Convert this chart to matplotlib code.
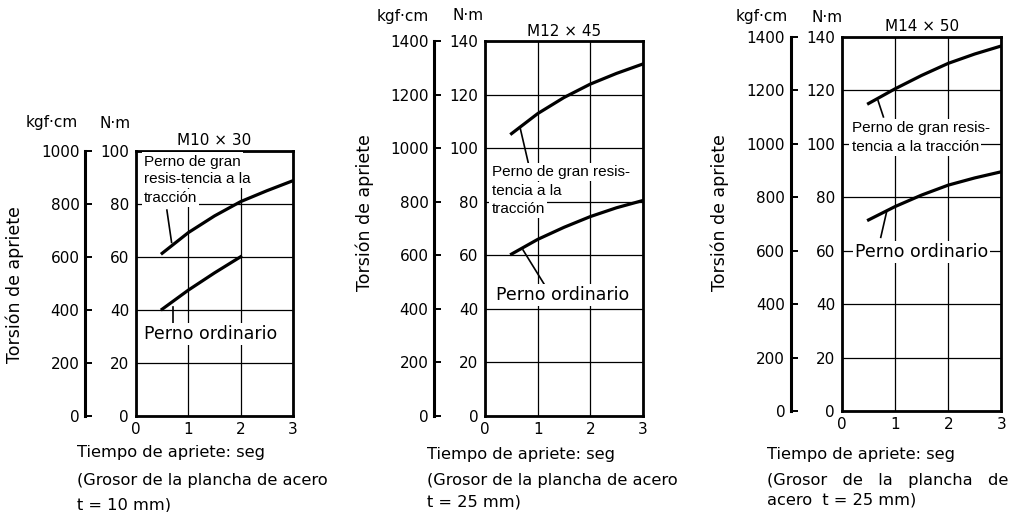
import numpy as np
import matplotlib
matplotlib.use("Agg")
import matplotlib.pyplot as plt

plt.rcParams['font.family'] = ['DejaVu Sans']
NARROW = ['Liberation Sans Narrow', 'Liberation Sans', 'DejaVu Sans']

W, H = 1027, 512

# --- data (x = seconds, y = N·m) ---
x_times = [0.5, 1.0, 1.5, 2.0, 2.5, 3.0]

m10_high_x = [0.5, 1.0, 1.5, 2.0, 2.5, 3.0]
m10_high_y = [61.4, 69.2, 75.5, 80.9, 85.0, 88.8]
m10_low_x = [0.5, 1.0, 1.5, 2.0]
m10_low_y = [40.3, 47.5, 54.0, 60.1]

m12_high_y = [105.5, 113.0, 119.0, 124.0, 128.0, 131.5]
m12_low_y = [60.5, 66.0, 70.5, 74.5, 77.8, 80.5]

m14_high_y = [115.0, 120.5, 125.5, 130.0, 133.5, 136.5]
m14_low_y = [71.5, 76.5, 80.8, 84.5, 87.2, 89.5]

titles = ["M10 \u00d7 30", "M12 \u00d7 45", "M14 \u00d7 50"]
nm_max = [100, 140, 140]
x_ticks = [0, 1, 2, 3]

TXT = 11.7


def fx(px):
    return px / W


def fy(py):
    return 1 - py / H


def make_panel(rect, ymax, title, sec_loc):
    ax = fig.add_axes(rect)
    ax.set_xlim(0, 3)
    ax.set_ylim(0, ymax)
    ax.set_xticks(x_ticks)
    ax.set_yticks(np.arange(0, ymax + 1, 20))
    ax.grid(True, color='black', lw=0.9)
    ax.set_axisbelow(True)
    for s in ax.spines.values():
        s.set_linewidth(2.0)
    ax.tick_params(length=0, labelsize=11, pad=5)
    ax.tick_params(axis='x', pad=4)
    ax.set_title(title, fontsize=11, pad=4)
    sec = ax.secondary_yaxis(sec_loc, functions=(lambda v: v * 10, lambda v: v / 10))
    sec.set_yticks(np.arange(0, ymax * 10 + 1, 200))
    sec.spines['left'].set_linewidth(2.2)
    sec.tick_params(direction='in', length=5, width=1.4, labelsize=11, pad=4)
    return ax


def line_text(ax, x, y, s, size=11, family=NARROW):
    ax.text(x, y, s, fontsize=size, family=family, ha='left', va='center',
            bbox=dict(facecolor='white', edgecolor='none', pad=1.5), zorder=5)


def ordinario(ax, x, y):
    line_text(ax, x, y, "Perno ordinario", size=12.5, family=['DejaVu Sans'])


fig = plt.figure(figsize=(W / 100, H / 100), dpi=100)

# ---------- panel 1 ----------
ax1 = make_panel([fx(136), fy(416), fx(157), 265 / H], nm_max[0], titles[0], -0.325)
ax1.plot(m10_high_x, m10_high_y, color='black', lw=2.3, zorder=4)
ax1.plot(m10_low_x, m10_low_y, color='black', lw=2.3, zorder=4)
line_text(ax1, 0.15, 96.0, "Perno de gran")
line_text(ax1, 0.15, 89.4, "resis-tencia a la")
line_text(ax1, 0.15, 82.2, "tracci\u00f3n")
ax1.plot([0.59, 0.68], [77.7, 65.5], color='black', lw=1.2, zorder=4)
ax1.plot([0.71, 0.71], [41.2, 35.0], color='black', lw=1.2, zorder=4)
ordinario(ax1, 0.15, 31.0)
fig.text(fx(52), fy(123), "kgf\u00b7cm", fontsize=11, ha='center', va='center')
fig.text(fx(115), fy(123), "N\u00b7m", fontsize=11, ha='center', va='center')
fig.text(fx(15), fy(285), "Torsi\u00f3n de apriete", fontsize=12.5, rotation=90,
         ha='center', va='center')
fig.text(fx(77), fy(453), "Tiempo de apriete: seg", fontsize=TXT, va='center')
fig.text(fx(77), fy(480), "(Grosor de la plancha de acero", fontsize=TXT, va='center')
fig.text(fx(77), fy(505), "t = 10 mm)", fontsize=TXT, va='center')

# ---------- panel 2 ----------
ax2 = make_panel([fx(485.3), fy(416), fx(157.4), 374.7 / H], nm_max[1], titles[1], -0.326)
ax2.plot(x_times, m12_high_y, color='black', lw=2.3, zorder=4)
ax2.plot(x_times, m12_low_y, color='black', lw=2.3, zorder=4)
line_text(ax2, 0.12, 91.3, "Perno de gran resis-")
line_text(ax2, 0.12, 84.2, "tencia a la")
line_text(ax2, 0.12, 77.4, "tracci\u00f3n")
ax2.plot([0.66, 0.82], [108.0, 94.5], color='black', lw=1.2, zorder=4)
ax2.plot([0.72, 1.13], [62.0, 49.0], color='black', lw=1.2, zorder=4)
ordinario(ax2, 0.21, 45.2)
fig.text(fx(403), fy(16), "kgf\u00b7cm", fontsize=11, ha='center', va='center')
fig.text(fx(468), fy(16), "N\u00b7m", fontsize=11, ha='center', va='center')
fig.text(fx(365), fy(213), "Torsi\u00f3n de apriete", fontsize=12.5, rotation=90,
         ha='center', va='center')
fig.text(fx(427), fy(455), "Tiempo de apriete: seg", fontsize=TXT, va='center')
fig.text(fx(427), fy(480), "(Grosor de la plancha de acero", fontsize=TXT, va='center')
fig.text(fx(427), fy(502), "t = 25 mm)", fontsize=TXT, va='center')

# ---------- panel 3 ----------
ax3 = make_panel([fx(842), fy(411.3), fx(159.3), 374.7 / H], nm_max[2], titles[2], -0.322)
ax3.plot(x_times, m14_high_y, color='black', lw=2.3, zorder=4)
ax3.plot(x_times, m14_low_y, color='black', lw=2.3, zorder=4)
line_text(ax3, 0.18, 105.8, "Perno de gran resis-")
line_text(ax3, 0.18, 98.9, "tencia a la tracci\u00f3n")
ax3.plot([0.68, 0.78], [116.0, 110.0], color='black', lw=1.2, zorder=4)
ax3.plot([0.84, 0.73], [74.5, 65.0], color='black', lw=1.2, zorder=4)
ordinario(ax3, 0.245, 59.6)
fig.text(fx(762), fy(17), "kgf\u00b7cm", fontsize=11, ha='center', va='center')
fig.text(fx(827), fy(17), "N\u00b7m", fontsize=11, ha='center', va='center')
fig.text(fx(720), fy(213), "Torsi\u00f3n de apriete", fontsize=12.5, rotation=90,
         ha='center', va='center')
fig.text(fx(767), fy(455), "Tiempo de apriete: seg", fontsize=TXT, va='center')
fig.text(fx(767), fy(480), "(Grosor   de   la   plancha   de", fontsize=TXT, va='center')
fig.text(fx(767), fy(500), "acero  t = 25 mm)", fontsize=TXT, va='center')

fig.savefig("out.png", dpi=100)
